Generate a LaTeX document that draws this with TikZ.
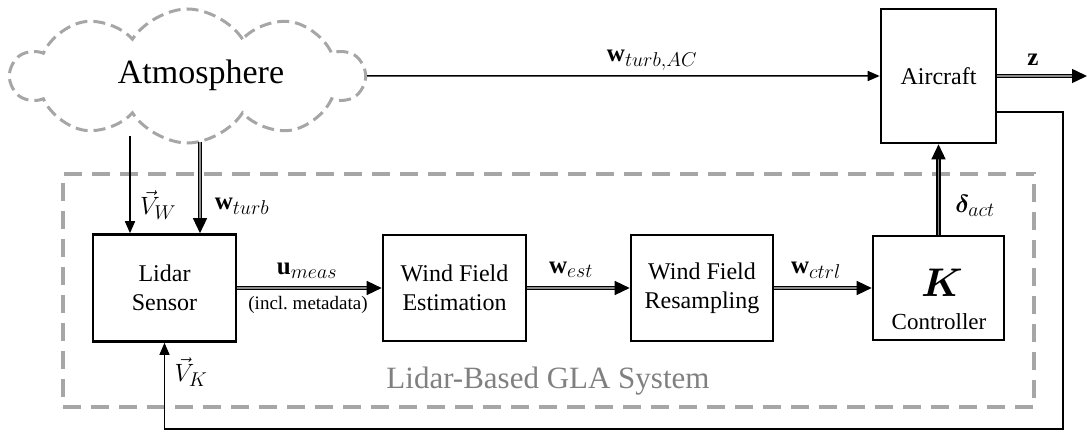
\documentclass[tikz,border=0pt]{standalone}
\usepackage{fix-cm}
\usepackage{amsmath,bm}
\usepackage{fontspec}
\setmainfont{Liberation Serif}
\DeclareMathSizes{25}{25}{20}{15}
\DeclareMathSizes{40}{40}{28}{20}
\usetikzlibrary{shapes.symbols,arrows.meta}
\definecolor{dashgray}{HTML}{A6A6A6}
\definecolor{labelgray}{HTML}{808080}
\definecolor{busgray}{HTML}{8C8C8C}

\tikzset{
  block/.style={draw, line width=2.6pt, align=center, inner sep=0pt,
    font=\fontsize{24}{29}\selectfont},
  sig/.style={line width=1.5pt, -{Triangle[length=12pt,width=10pt]}},
  fb/.style={line width=1.1pt, -{Triangle[length=12pt,width=10pt]}},
  bus/.style={draw=black, line width=1.4pt, double=busgray, double distance=1.8pt,
    -{Triangle[length=15pt,width=14pt]}},
  sigtext/.style={font=\fontsize{25}{30}\selectfont, inner sep=0pt},
  sysbox/.style={draw=dashgray, line width=3.2pt, dash pattern=on 18pt off 10pt},
  cloudbox/.style={cloud, cloud puffs=10, cloud puff arc=115, cloud ignores aspect,
    draw=dashgray, line width=3pt, dash pattern=on 12pt off 6pt,
    minimum width=352pt, minimum height=134pt, inner sep=0pt},
}

\begin{document}
\begin{tikzpicture}[x=1pt,y=-1pt]
  \useasboundingbox (0,0) rectangle (1087,433);

  % system boundary
  \node[sysbox, minimum width=971pt, minimum height=233pt] (gla) at (548.5,290.5) {};
  \node[font=\fontsize{31}{36}\selectfont, text=labelgray, inner sep=0pt] (glalabel) at (548,381) {Lidar-Based GLA System};

  % atmosphere
  \node[cloudbox] (cloud) at (187.5,76) {};
  \node[font=\fontsize{34}{40}\selectfont, inner sep=0pt] (atmo) at (201,75) {Atmosphere};

  % blocks
  \node[block, minimum width=143pt, minimum height=107pt] (lidar) at (164.5,288) {Lidar\\Sensor};
  \node[block, minimum width=143pt, minimum height=106pt] (wfe) at (454.5,288) {Wind Field\\Estimation};
  \node[block, minimum width=142pt, minimum height=106pt] (wfr) at (702,288) {Wind Field\\Resampling};
  \node[block, minimum width=131pt, minimum height=104pt] (ctrl) at (938.5,288) {};
  \node[font=\fontsize{40}{40}\selectfont, inner sep=0pt] (kgain) at (942,283) {$\boldsymbol{K}$};
  \node[font=\fontsize{23}{26}\selectfont, inner sep=0pt] (ctrltext) at (939,322) {Controller};
  \node[block, minimum width=115pt, minimum height=134pt] (aircraft) at (938.5,76) {Aircraft};

  % helper points
  \coordinate (vwsrc) at (130,136);
  \coordinate (wtsrc) at (200,142);
  \coordinate (zend) at (1087,76);
  \coordinate (fbstart) at (aircraft.east |- 0,112);
  \coordinate (fbcorner) at (1063,429);

  % connectors
  \draw[sig] (cloud.east) -- (aircraft.west);
  \draw[sig] (vwsrc) -- (vwsrc |- lidar.north);
  \draw[bus] (wtsrc) -- (wtsrc |- lidar.north);
  \draw[bus] (lidar.east) -- (wfe.west);
  \draw[bus] (wfe.east) -- (wfr.west);
  \draw[bus] (wfr.east) -- (ctrl.west);
  \draw[bus] (ctrl.north) -- (aircraft.south);
  \draw[bus] (aircraft.east) -- (zend);
  \draw[fb] (fbstart) -| (fbcorner) -| (lidar.south);

  % signal labels
  \node[sigtext] (lwac) at (652,60) {$\mathbf{w}_{turb,AC}$};
  \node[sigtext] (lz) at (1033,60) {$\mathbf{z}$};
  \node[sigtext] (lvw) at (158,205) {$\vec{V}_{W}$};
  \node[sigtext] (lwt) at (242,206) {$\mathbf{w}_{turb}$};
  \node[sigtext] (lum) at (307,271) {$\mathbf{u}_{meas}$};
  \node[font=\fontsize{19}{22}\selectfont, inner sep=0pt] (lmeta) at (308,305) {(incl.\ metadata)};
  \node[sigtext] (lwe) at (571,270) {$\mathbf{w}_{est}$};
  \node[sigtext] (lwc) at (816,270) {$\mathbf{w}_{ctrl}$};
  \node[sigtext] (lda) at (975,206) {$\boldsymbol{\delta}_{act}$};
  \node[sigtext] (lvk) at (191,372) {$\vec{V}_{K}$};
\end{tikzpicture}
\end{document}
